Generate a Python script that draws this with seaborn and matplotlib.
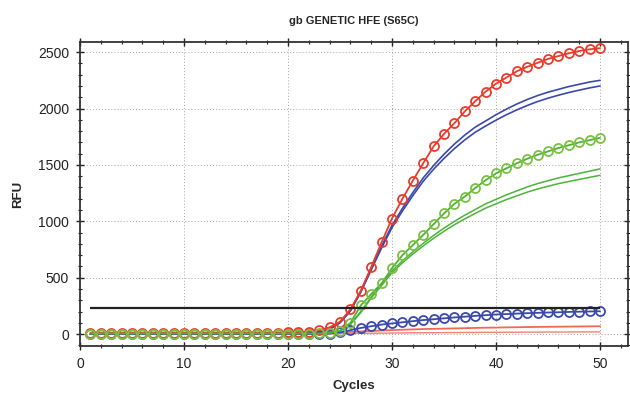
import matplotlib.pyplot as plt
import matplotlib.ticker as mticker
import seaborn as sns
import numpy as np

# 数据
cycles = np.arange(1, 51)

red_circles = [8, 9, 9, 10, 10, 11, 11, 11, 12, 12, 12, 12, 12, 13, 13, 13, 13, 13, 14, 15,
               17, 22, 35, 60, 110, 220, 385, 595, 815, 1025, 1200, 1360, 1515, 1665, 1775,
               1870, 1975, 2065, 2150, 2220, 2275, 2330, 2370, 2405, 2440, 2465, 2490, 2510,
               2525, 2535]
blue_line_1 = [2, 2, 2, 2, 2, 2, 2, 2, 2, 2, 2, 2, 2, 2, 2, 2, 2, 2, 3, 4,
               6, 10, 20, 45, 105, 210, 380, 580, 780, 965, 1115, 1255, 1385, 1495, 1595,
               1685, 1765, 1835, 1890, 1945, 1995, 2040, 2080, 2115, 2145, 2170, 2195, 2215,
               2235, 2250]
blue_line_2 = [0, 0, 0, 0, 0, 0, 0, 0, 0, 0, 0, 0, 0, 0, 0, 0, 0, 0, 1, 2,
               4, 8, 18, 42, 100, 205, 372, 570, 765, 945, 1092, 1228, 1355, 1462, 1558,
               1645, 1722, 1790, 1845, 1897, 1945, 1988, 2027, 2062, 2092, 2118, 2142, 2163,
               2183, 2200]
green_circles = [5, 5, 5, 5, 5, 5, 5, 5, 5, 5, 5, 5, 5, 5, 5, 5, 5, 5, 5, 5,
                 5, 5, 6, 10, 30, 100, 255, 355, 450, 585, 700, 790, 880, 975, 1070,
                 1155, 1220, 1295, 1365, 1425, 1470, 1515, 1555, 1590, 1620, 1650, 1675, 1700,
                 1720, 1740]
green_line_1 = [0, 0, 0, 0, 0, 0, 0, 0, 0, 0, 0, 0, 0, 0, 0, 0, 0, 0, 0, 0,
                0, 0, 2, 8, 30, 90, 200, 330, 445, 560, 650, 730, 805, 875, 940,
                1000, 1055, 1105, 1155, 1195, 1235, 1270, 1305, 1335, 1360, 1385, 1405, 1425,
                1445, 1465]
green_line_2 = [0, 0, 0, 0, 0, 0, 0, 0, 0, 0, 0, 0, 0, 0, 0, 0, 0, 0, 0, 0,
                0, 0, 2, 7, 28, 85, 192, 320, 432, 545, 632, 710, 782, 850, 912,
                970, 1022, 1070, 1117, 1155, 1193, 1226, 1259, 1287, 1311, 1334, 1353, 1372,
                1390, 1408]
blue_circles = [0, 0, 0, 0, 0, 0, 0, 0, 0, 0, 0, 0, 0, 0, 0, 0, 0, 0, 0, 0,
                0, 0, 2, 5, 15, 35, 55, 70, 85, 95, 105, 115, 125, 132, 140,
                148, 155, 162, 168, 174, 178, 182, 186, 189, 192, 194, 197, 199,
                201, 203]
red_line_1 = [15, 15, 15, 15, 15, 15, 15, 15, 15, 15, 14, 14, 14, 14, 14, 14, 14, 14, 14, 14,
              14, 14, 14, 15, 17, 20, 24, 28, 32, 36, 39, 42, 45, 47, 49,
              51, 53, 55, 57, 58, 60, 61, 63, 64, 65, 66, 67, 68, 69, 70]
red_line_2 = [3, 3, 3, 3, 3, 3, 3, 3, 3, 3, 3, 3, 3, 3, 3, 3, 3, 3, 3, 3,
              3, 3, 3, 4, 5, 6, 7, 8, 9, 10, 11, 12, 12, 13, 14,
              14, 15, 15, 16, 16, 17, 17, 18, 18, 19, 19, 19, 20, 20, 20]
threshold = 232

title = "gb GENETIC HFE (S65C)"

# 颜色
RED = "#ea3b2b"
BLUE = "#3b4aaa"
GREEN = "#4bb33a"

sns.set_style("ticks")
plt.rcParams["font.family"] = ["Liberation Sans", "DejaVu Sans"]

fig = plt.figure(figsize=(6.3, 3.96), dpi=100)
ax = fig.add_axes([0.127, 0.126, 0.870, 0.768])

# 先画低线
sns.lineplot(x=cycles, y=red_line_2, color="#f08070", lw=1.0, ax=ax)
sns.lineplot(x=cycles, y=red_line_1, color="#ef6a55", lw=1.3, ax=ax)

# 绿色线
sns.lineplot(x=cycles, y=green_line_2, color=GREEN, lw=1.1, ax=ax)
sns.lineplot(x=cycles, y=green_line_1, color=GREEN, lw=1.1, ax=ax)

# 蓝色线
sns.lineplot(x=cycles, y=blue_line_2, color=BLUE, lw=1.2, ax=ax)
sns.lineplot(x=cycles, y=blue_line_1, color=BLUE, lw=1.2, ax=ax)

# 带圆圈的曲线
circle_kw = dict(marker="o", markersize=6.5, markerfacecolor="none", markeredgewidth=1.3, lw=1.3)
sns.lineplot(x=cycles, y=blue_circles, color=BLUE, markeredgecolor=BLUE, ax=ax, **circle_kw)
sns.lineplot(x=cycles, y=red_circles, color=RED, markeredgecolor=RED, ax=ax, **circle_kw)
sns.lineplot(x=cycles, y=green_circles, color=GREEN, markeredgecolor="#7cc040", ax=ax, **circle_kw)

# 阈值线
ax.hlines(threshold, cycles[0], cycles[-1], color="#222222", lw=1.6, zorder=5)

# 坐标轴
ax.set_xlim(0, 52.7)
ax.set_ylim(-106, 2590)
ax.xaxis.set_major_locator(mticker.MultipleLocator(10))
ax.xaxis.set_minor_locator(mticker.MultipleLocator(2))
ax.yaxis.set_major_locator(mticker.MultipleLocator(500))
ax.yaxis.set_minor_locator(mticker.MultipleLocator(100))
ax.tick_params(which="both", direction="inout", top=True, right=True, colors="#222222",
               labelsize=10, pad=5)
ax.tick_params(which="major", length=6, width=1.0)
ax.tick_params(which="minor", length=3.5, width=0.8)
ax.grid(True, which="major", linestyle=(0, (1.2, 2.5)), color="#999999", lw=0.6)
for s in ax.spines.values():
    s.set_color("#333333")
    s.set_linewidth(1.3)

ax.set_title(title, fontsize=8, fontweight="bold", pad=13)
ax.set_xlabel("Cycles", fontsize=9.5, fontweight="bold", labelpad=6)
ax.set_ylabel("RFU", fontsize=9.5, fontweight="bold", labelpad=10)

plt.savefig("out.png", dpi=100)
plt.close()
